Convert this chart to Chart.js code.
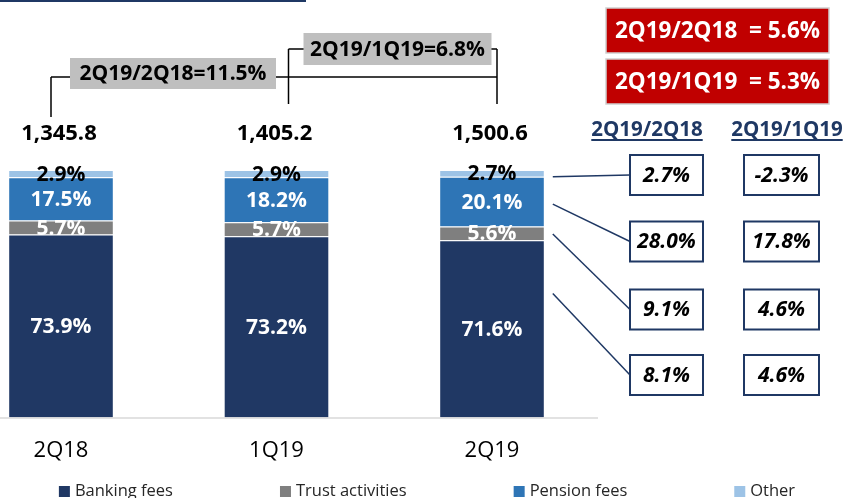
<!DOCTYPE html>
<html>
<head>
<meta charset="utf-8">
<title>Fee income mix</title>
<script src="https://cdn.jsdelivr.net/npm/chart.js@4.4.1/dist/chart.umd.min.js"></script>
<style>
  html, body { margin: 0; padding: 0; background: #fff; }
  #wrap { position: relative; width: 848px; height: 498px; }
</style>
</head>
<body>
<div id="wrap"><canvas id="feesChart" width="848" height="498"></canvas></div>
<script>
// quarters and share of each fee line (%)
var quarters = ['2Q18', '1Q19', '2Q19'];
var bankingFees = [73.9, 73.2, 71.6];
var trustActivities = [5.7, 5.7, 5.6];
var pensionFees = [17.5, 18.2, 20.1];
var otherFees = [2.9, 2.9, 2.7];

// total fee income per quarter
var totals = [1345.8, 1405.2, 1500.6];

// growth of the total (brackets over the bars)
var totalGrowthLabels = ['2Q19/2Q18=11.5%', '2Q19/1Q19=6.8%'];

// headline growth boxes
var headlineLabels = ['2Q19/2Q18  = 5.6%', '2Q19/1Q19  = 5.3%'];

// growth by fee line, same order as the datasets
var tableHeaders = ['2Q19/2Q18', '2Q19/1Q19'];
var growthYoY = [8.1, 9.1, 28.0, 2.7];
var growthQoQ = [4.6, 4.6, 17.8, -2.3];

var FONT = '"Open Sans", "Noto Sans", sans-serif';
var NAVY = '#1f3864';

function fmtPct(v) { return v.toFixed(1) + '%'; }
function fmtTotal(v) {
    return v.toLocaleString('en-US', { minimumFractionDigits: 1, maximumFractionDigits: 1 });
}

function line(ctx, x1, y1, x2, y2) {
    ctx.beginPath();
    ctx.moveTo(x1, y1);
    ctx.lineTo(x2, y2);
    ctx.stroke();
}

function boxText(ctx, x, y, w, h, fill, stroke, lw, text, font, color) {
    if (fill) { ctx.fillStyle = fill; ctx.fillRect(x, y, w, h); }
    if (stroke) { ctx.strokeStyle = stroke; ctx.lineWidth = lw; ctx.strokeRect(x, y, w, h); }
    ctx.fillStyle = color;
    ctx.font = font;
    ctx.textAlign = 'center';
    ctx.textBaseline = 'middle';
    ctx.fillText(text, x + w / 2, y + h / 2 + 1);
}

var decorations = {
    id: 'decorations',
    afterDatasetsDraw: function (chart) {
        var ctx = chart.ctx;
        var yScale = chart.scales.y;
        var baseY = yScale.getPixelForValue(0);
        ctx.save();

        // title rule across the top
        ctx.strokeStyle = NAVY;
        ctx.lineWidth = 2;
        line(ctx, 0, 1, 306, 1);

        // category axis line
        ctx.strokeStyle = '#d9d9d9';
        ctx.lineWidth = 1.5;
        line(ctx, 0, baseY + 0.5, 598, baseY + 0.5);

        // segment labels
        chart.data.datasets.forEach(function (ds, d) {
            var meta = chart.getDatasetMeta(d);
            meta.data.forEach(function (el, i) {
                var cy = (el.y + el.base) / 2 + 1;
                ctx.textAlign = 'center';
                ctx.textBaseline = 'middle';
                ctx.font = 'bold 21px ' + FONT;
                ctx.fillStyle = d === 3 ? '#000' : '#fff';
                ctx.fillText(fmtPct(ds.data[i]), el.x, cy);
            });
        });

        // totals above each bar
        var top = chart.getDatasetMeta(3).data;
        top.forEach(function (el, i) {
            ctx.font = 'bold 22px ' + FONT;
            ctx.fillStyle = '#000';
            ctx.textAlign = 'center';
            ctx.textBaseline = 'middle';
            ctx.fillText(fmtTotal(totals[i]), el.x - 2, 134);
        });

        // growth brackets
        var x0 = top[0].x - 10, x1 = top[1].x + 12, x2 = top[2].x + 5;
        ctx.strokeStyle = '#000';
        ctx.lineWidth = 1.5;
        line(ctx, x0, 77, x2, 77);
        line(ctx, x0, 77, x0, 117);
        line(ctx, x1, 49, x2, 49);
        line(ctx, x1, 49, x1, 104);
        line(ctx, x2, 49, x2, 104);
        boxText(ctx, x0 + 19, 58, 206, 31, '#bfbfbf', null, 0,
            totalGrowthLabels[0], 'bold 21px ' + FONT, '#000');
        boxText(ctx, x1 + 15, 33, 188, 32, '#bfbfbf', null, 0,
            totalGrowthLabels[1], 'bold 21px ' + FONT, '#000');

        // headline red boxes
        headlineLabels.forEach(function (t, k) {
            boxText(ctx, 606, 8 + k * 51, 223, 45, '#c00000', '#d0d0d0', 1.5,
                t, 'bold 22.5px ' + FONT, '#fff');
        });

        // growth table headers
        var colX = [647, 787];
        tableHeaders.forEach(function (t, k) {
            ctx.font = 'bold 20.5px ' + FONT;
            ctx.fillStyle = NAVY;
            ctx.textAlign = 'center';
            ctx.textBaseline = 'middle';
            ctx.fillText(t, colX[k], 130);
            var w = ctx.measureText(t).width;
            ctx.strokeStyle = NAVY;
            ctx.lineWidth = 2;
            line(ctx, colX[k] - w / 2, 140, colX[k] + w / 2, 140);
        });

        // growth boxes by fee line, top row is "Other"
        var rowY = [175, 241.5, 309.5, 375];
        var bar = 2;
        var fracs = [0.3, 0.55, 0.55, 1.0];
        for (var s = 3; s >= 0; s--) {
            var r = 3 - s;
            var cy = rowY[r];
            boxText(ctx, 630, cy - 20, 73, 40, '#fff', NAVY, 2,
                fmtPct(growthYoY[s]), 'italic bold 21px ' + FONT, '#000');
            boxText(ctx, 744, cy - 20, 75, 40, '#fff', NAVY, 2,
                fmtPct(growthQoQ[s]), 'italic bold 21px ' + FONT, '#000');

            // connector from the 2Q19 segment to its row
            var el = chart.getDatasetMeta(s).data[bar];
            var sy = el.y + (el.base - el.y) * fracs[s];
            ctx.strokeStyle = NAVY;
            ctx.lineWidth = 1.5;
            line(ctx, el.x + el.width / 2 + 8, sy, 630, cy);
        }

        // legend row along the bottom
        ctx.font = '16.5px ' + FONT;
        var gap = 107, sw = 11, tg = 5;
        var widths = chart.data.datasets.map(function (ds) {
            return sw + tg + ctx.measureText(ds.label).width;
        });
        var total = widths.reduce(function (a, b) { return a + b; }, 0) + gap * 3;
        var lx = 427 - total / 2;
        chart.data.datasets.forEach(function (ds, d) {
            ctx.fillStyle = ds.backgroundColor;
            ctx.fillRect(lx, 486, sw, sw);
            ctx.fillStyle = '#262626';
            ctx.textAlign = 'left';
            ctx.textBaseline = 'middle';
            ctx.fillText(ds.label, lx + sw + tg, 491);
            lx += widths[d] + gap;
        });

        ctx.restore();
    }
};

var segBorder = 'rgba(255,255,255,0.45)';

var chartdata = {
    labels: quarters,
    datasets: [
        { label: 'Banking fees', data: bankingFees, backgroundColor: '#203864' },
        { label: 'Trust activities', data: trustActivities, backgroundColor: '#7f7f7f' },
        { label: 'Pension fees', data: pensionFees, backgroundColor: '#2e75b6' },
        { label: 'Other', data: otherFees, backgroundColor: '#9dc3e6' }
    ]
};
chartdata.datasets.forEach(function (ds) {
    ds.borderColor = segBorder;
    ds.borderWidth = 1;
    ds.clip = false;
    ds.barPercentage = 0.49;
    ds.categoryPercentage = 1;
});

var feesChart = new Chart(document.getElementById('feesChart'), {
    type: 'bar',
    data: chartdata,
    options: {
        responsive: false,
        animation: false,
        layout: { padding: { left: 61, right: 356, top: 170, bottom: 14 } },
        plugins: { legend: { display: false }, tooltip: { enabled: false } },
        scales: {
            x: {
                stacked: true,
                offset: false,
                grid: { display: false, drawTicks: false },
                border: { display: false },
                ticks: { padding: 20, color: '#000', font: { family: FONT, size: 22 } }
            },
            y: { stacked: true, display: false, min: 0, max: 100 }
        }
    },
    plugins: [decorations]
});
</script>
</body>
</html>
